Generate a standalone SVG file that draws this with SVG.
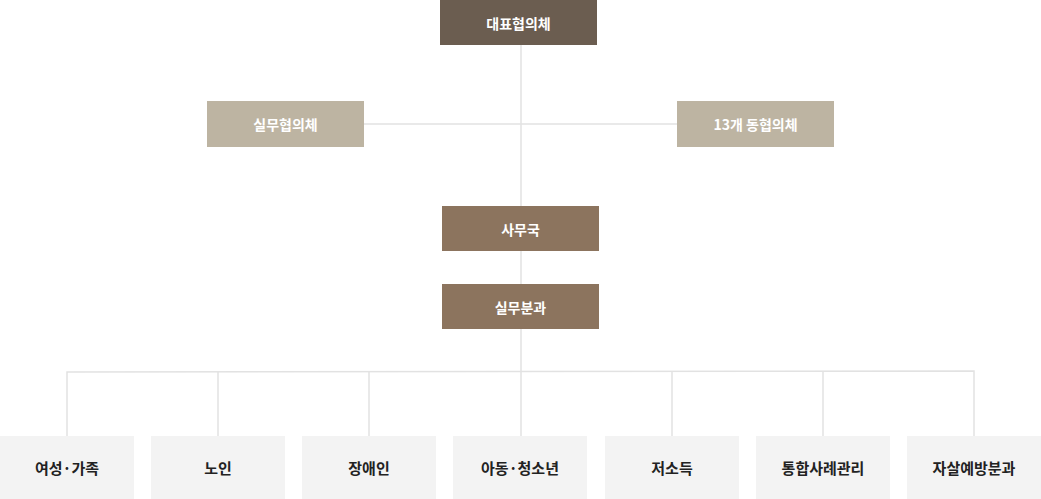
<svg xmlns="http://www.w3.org/2000/svg" width="1041" height="499" viewBox="0 0 1041 499">
<style>
text{font-family:"Noto Sans CJK KR","Noto Sans",sans-serif;text-anchor:middle;dominant-baseline:central}
.w{fill:#ffffff;font-size:14px;font-weight:700}
.d{fill:#222222;font-size:15px;font-weight:700}
.ln{stroke:#e2e2e2;stroke-width:1.5;fill:none}
.b{fill:#f3f3f3}
</style>
<rect width="1041" height="499" fill="#ffffff"/>
<g id="connectors">
<line class="ln" x1="521" y1="45" x2="521" y2="436"/>
<line class="ln" x1="364" y1="124" x2="677" y2="124"/>
<polyline class="ln" points="67,436 67,372 974,371 974,436"/>
<line class="ln" x1="218" y1="372" x2="218" y2="436"/>
<line class="ln" x1="369" y1="372" x2="369" y2="436"/>
<line class="ln" x1="672" y1="371" x2="672" y2="436"/>
<line class="ln" x1="823" y1="371" x2="823" y2="436"/>
</g>
<g id="n-top"><rect x="440" y="0" width="157" height="45" fill="#6b5d50"/><text class="w" x="518.5" y="22.5">대표협의체</text></g>
<g id="n-left"><rect x="207" y="101" width="157" height="46" fill="#bdb4a2"/><text class="w" x="285.5" y="124">실무협의체</text></g>
<g id="n-right"><rect x="677" y="101" width="157" height="46" fill="#bdb4a2"/><text class="w" x="755.5" y="124">13개 동협의체</text></g>
<g id="n-office"><rect x="442" y="206" width="157" height="45" fill="#8c745e"/><text class="w" x="520.5" y="228.5">사무국</text></g>
<g id="n-sub"><rect x="442" y="284" width="157" height="45" fill="#8c745e"/><text class="w" x="520.5" y="306.5">실무분과</text></g>
<g id="b1"><rect class="b" x="0" y="436" width="134" height="63"/><text class="d" x="67" y="467">여성·가족</text></g>
<g id="b2"><rect class="b" x="151" y="436" width="134" height="63"/><text class="d" x="218" y="467">노인</text></g>
<g id="b3"><rect class="b" x="302" y="436" width="134" height="63"/><text class="d" x="369" y="467">장애인</text></g>
<g id="b4"><rect class="b" x="453" y="436" width="134" height="63"/><text class="d" x="520" y="467">아동·청소년</text></g>
<g id="b5"><rect class="b" x="605" y="436" width="134" height="63"/><text class="d" x="672" y="467">저소득</text></g>
<g id="b6"><rect class="b" x="756" y="436" width="134" height="63"/><text class="d" x="823" y="467">통합사례관리</text></g>
<g id="b7"><rect class="b" x="907" y="436" width="134" height="63"/><text class="d" x="974" y="467">자살예방분과</text></g>
</svg>
